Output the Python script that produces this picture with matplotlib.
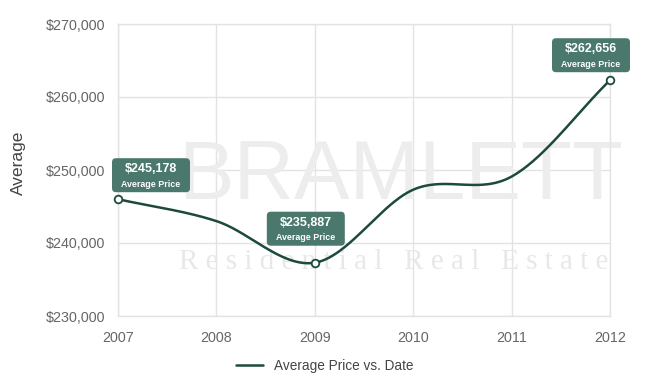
import numpy as np
import matplotlib
matplotlib.use("Agg")
import matplotlib.pyplot as plt
from matplotlib.patches import FancyBboxPatch

years = [2007, 2008, 2009, 2010, 2011, 2012]
avg_price = [246000, 243000, 237300, 247300, 249100, 262300]
label_years = [2007, 2009, 2012]
label_texts = ["$245,178", "$235,887", "$262,656"]
y_ticks = [230000, 240000, 250000, 260000, 270000]
y_tick_labels = ["$230,000", "$240,000", "$250,000", "$260,000", "$270,000"]

plt.rcParams['font.family'] = ['Liberation Sans', 'DejaVu Sans']

fig = plt.figure(figsize=(6.5, 3.86), dpi=100)
ax = fig.add_axes([118/650, 1-316/386, (610-118)/650, (316-24)/386])

LINE = "#1d4a3e"
BOX = "#4a786d"
GRID = "#e3e3e3"
TXT = "#666666"

# Catmull-Rom style smooth rendering of the yearly points
x = np.array(years, dtype=float)
y = np.array(avg_price, dtype=float)
n = len(x)
m = np.zeros(n)
for i in range(n):
    if i == 0:
        m[i] = (y[1] - y[0])
    elif i == n - 1:
        m[i] = (y[-1] - y[-2])
    else:
        m[i] = (y[i+1] - y[i-1]) / 2
xs, ys = [], []
for i in range(n - 1):
    t = np.linspace(0, 1, 60)
    h00 = 2*t**3 - 3*t**2 + 1
    h10 = t**3 - 2*t**2 + t
    h01 = -2*t**3 + 3*t**2
    h11 = t**3 - t**2
    xs.append(x[i] + t*(x[i+1]-x[i]))
    ys.append(h00*y[i] + h10*m[i] + h01*y[i+1] + h11*m[i+1])
xs = np.concatenate(xs)
ys = np.concatenate(ys)

ax.set_xlim(2007, 2012)
ax.set_ylim(230000, 270000)

# watermark
ax.text(0.575, 0.475, "BRAMLETT", transform=ax.transAxes, fontsize=60,
        color="#ededed", ha="center", va="center",
        family=["Liberation Sans"], zorder=1)
ax.text(0.56, 0.185, "R e s i d e n t i a l   R e a l   E s t a t e",
        transform=ax.transAxes, fontsize=21, color="#e8e8e8",
        ha="center", va="center", family=["Liberation Serif"], zorder=1)

ax.plot(xs, ys, color=LINE, lw=1.8, zorder=3, solid_capstyle="round",
        label="Average Price vs. Date")

for yr, txt in zip(label_years, label_texts):
    val = avg_price[years.index(yr)]
    ax.plot([yr], [val], marker="o", ms=5.5, mfc="white", mec=LINE, mew=1.3,
            zorder=5, clip_on=False)

# label boxes (centre offsets in pixels relative to marker)
offsets = {2007: (33, 24), 2009: (-9, 34), 2012: (-19, 25)}
for yr, txt in zip(label_years, label_texts):
    val = avg_price[years.index(yr)]
    px, py = ax.transData.transform((yr, val))
    dx, dy = offsets[yr]
    cx, cy = px + dx, py + dy
    w, h = 78, 34
    box = FancyBboxPatch((cx - w/2, cy - h/2), w, h,
                         boxstyle="round,pad=0,rounding_size=4",
                         transform=None, fc=BOX, ec="none", zorder=6)
    fig.patches.append(box)
    fig.text(cx/650, (cy + 6)/386, txt, color="white", fontsize=9,
             fontweight="bold", ha="center", va="center", zorder=7)
    fig.text(cx/650, (cy - 9)/386, "Average Price", color="white", fontsize=6.4,
             fontweight="bold", ha="center", va="center", zorder=7)

ax.set_xticks(years)
ax.set_xticklabels([str(v) for v in years])
ax.set_yticks(y_ticks)
ax.set_yticklabels(y_tick_labels)
ax.tick_params(length=0, labelsize=10.3, colors=TXT)
ax.tick_params(axis="y", pad=9)
ax.tick_params(axis="x", pad=11)
ax.grid(True, color=GRID, lw=1, zorder=0)
ax.set_axisbelow(True)
for s in ax.spines.values():
    s.set_color(GRID)
    s.set_linewidth(1)

fig.text(18/650, 1 - 163/386, "Average", rotation=90, fontsize=12.5,
         color="#444444", ha="center", va="center")

leg = fig.legend(handles=ax.get_lines()[:1], loc="center",
                 bbox_to_anchor=(325/650, 1 - 366/386), frameon=False,
                 fontsize=9.8, handlelength=2.0, handletextpad=0.8)
for t in leg.get_texts():
    t.set_color("#444444")

fig.savefig("out.png", dpi=100)
